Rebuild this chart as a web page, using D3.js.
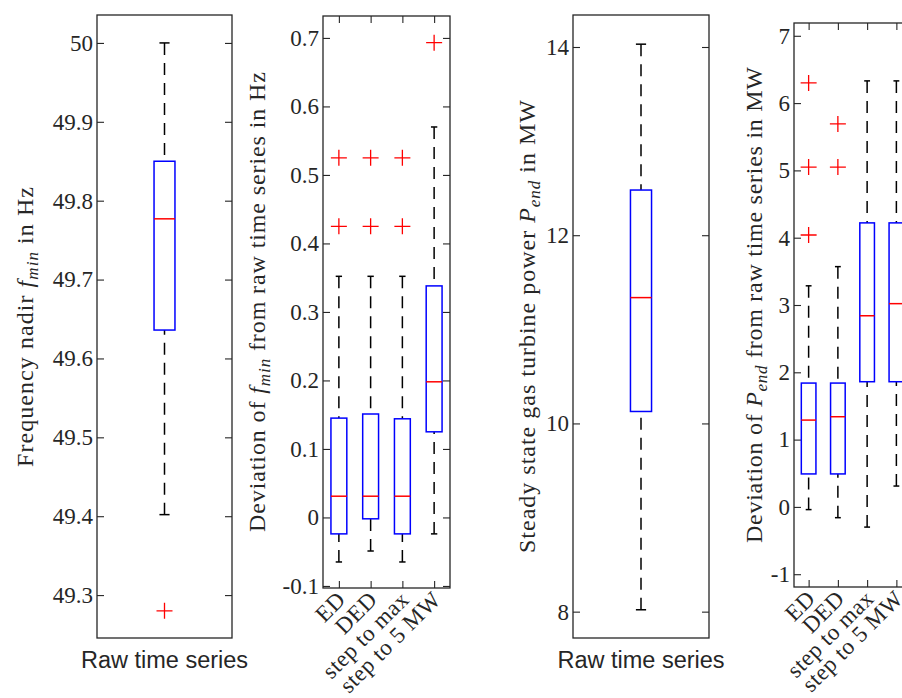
<!DOCTYPE html>
<html>
<head>
<meta charset="utf-8">
<script src="https://cdn.jsdelivr.net/npm/d3@7/dist/d3.min.js"></script>
<style>
  html, body { margin: 0; padding: 0; background: #fff; }
  svg { display: block; }
</style>
</head>
<body>
<svg id="chart" width="902" height="698"></svg>
<script>
// ---------------- DATA ----------------
// box stats order: [lower whisker, q1, median, q3, upper whisker]
const rawCategories = ["Raw time series"];
const devCategories = ["ED", "DED", "step to max", "step to 5 MW"];

const fminRawBoxes = [[49.402, 49.636, 49.777, 49.850, 50.000]];
const fminRawOutliers = [[49.28]];
const fminRawTicks = [49.3, 49.4, 49.5, 49.6, 49.7, 49.8, 49.9, 50];

const fminDevBoxes = [
  [-0.065, -0.024, 0.031, 0.145, 0.352],
  [-0.049, -0.002, 0.031, 0.151, 0.352],
  [-0.065, -0.024, 0.031, 0.144, 0.352],
  [-0.024, 0.125, 0.198, 0.338, 0.570]
];
const fminDevOutliers = [[0.425, 0.525], [0.425, 0.525], [0.425, 0.525], [0.693]];
const fminDevTicks = [-0.1, 0, 0.1, 0.2, 0.3, 0.4, 0.5, 0.6, 0.7];

const pendRawBoxes = [[8.02, 10.127, 11.337, 12.48, 14.03]];
const pendRawOutliers = [[]];
const pendRawTicks = [8, 10, 12, 14];

const pendDevBoxes = [
  [-0.04, 0.49, 1.29, 1.84, 3.285],
  [-0.16, 0.49, 1.34, 1.84, 3.57],
  [-0.30, 1.86, 2.84, 4.22, 6.33],
  [0.31, 1.86, 3.02, 4.22, 6.33]
];
const pendDevOutliers = [[4.04, 5.05, 6.30], [5.05, 5.69], [], []];
const pendDevTicks = [-1, 0, 1, 2, 3, 4, 5, 6, 7];

// ---------------- DRAWING ----------------
const svg = d3.select("#chart");
const FRAME = "#262626";
const SERIF = "'Liberation Serif', 'Times New Roman', serif";
const SANS = "'Liberation Sans', Arial, sans-serif";
const fmt = d => String(+d.toFixed(1));

function drawPanel(cfg) {
  const g = svg.append("g");
  const { x0, x1, y0, y1 } = cfg.frame;
  const y = d3.scaleLinear().domain(cfg.domain).range([y1, y0]);
  const x = d3.scalePoint().domain(cfg.categories).range([x0, x1]).padding(0.5);
  const step = cfg.categories.length > 1 ? x.step() : (x1 - x0);
  const bw = cfg.boxFrac * step;
  const cw = cfg.capFrac * step;

  // y axes (inside ticks, mirrored)
  const yl = g.append("g").attr("transform", `translate(${x0},0)`)
    .call(d3.axisLeft(y).tickValues(cfg.ticks).tickFormat(fmt).tickSize(-7).tickPadding(4));
  const yr = g.append("g").attr("transform", `translate(${x1},0)`)
    .call(d3.axisRight(y).tickValues(cfg.ticks).tickFormat("").tickSize(-7));
  [yl, yr].forEach(a => {
    a.select(".domain").remove();
    a.selectAll("line").attr("stroke", FRAME).attr("stroke-width", 1.1);
  });
  yl.selectAll("text").style("font-family", SERIF).style("font-size", "23px").attr("fill", FRAME);

  if (cfg.xTicks) {
    const xb = g.append("g").attr("transform", `translate(0,${y1})`)
      .call(d3.axisBottom(x).tickSize(-7).tickFormat(""));
    const xt = g.append("g").attr("transform", `translate(0,${y0})`)
      .call(d3.axisTop(x).tickSize(-7).tickFormat(""));
    [xb, xt].forEach(a => {
      a.select(".domain").remove();
      a.selectAll("line").attr("stroke", FRAME).attr("stroke-width", 1.1);
    });
    g.selectAll(".xlab").data(cfg.categories).enter().append("text")
      .attr("class", "xlab")
      .attr("transform", d => `translate(${x(d) + 8},${y1 + 13}) rotate(-45)`)
      .attr("text-anchor", "end")
      .style("font-family", SERIF).style("font-size", "23px").attr("letter-spacing", 0.5)
      .attr("fill", FRAME)
      .text(d => d);
  } else {
    g.selectAll(".xlab").data(cfg.categories).enter().append("text")
      .attr("class", "xlab")
      .attr("x", d => x(d)).attr("y", y1 + 30)
      .attr("text-anchor", "middle")
      .style("font-family", SANS).style("font-size", "23.5px").attr("fill", FRAME)
      .text(d => d);
  }

  // frame
  g.append("rect").attr("x", x0).attr("y", y0).attr("width", x1 - x0).attr("height", y1 - y0)
    .attr("fill", "none").attr("stroke", FRAME).attr("stroke-width", 1.3);

  // boxes
  cfg.categories.forEach((c, i) => {
    const [lw, q1, med, q3, uw] = cfg.boxes[i];
    const cx = x(c);
    const bg = g.append("g");
    bg.append("line").attr("x1", cx).attr("x2", cx).attr("y1", y(uw)).attr("y2", y(q3))
      .attr("stroke", "#000").attr("stroke-width", 1.5).attr("stroke-dasharray", "12,8");
    bg.append("line").attr("x1", cx).attr("x2", cx).attr("y1", y(lw)).attr("y2", y(q1))
      .attr("stroke", "#000").attr("stroke-width", 1.5).attr("stroke-dasharray", "12,8");
    [uw, lw].forEach(v => {
      bg.append("line").attr("x1", cx - cw / 2).attr("x2", cx + cw / 2).attr("y1", y(v)).attr("y2", y(v))
        .attr("stroke", "#000").attr("stroke-width", 1.5);
    });
    bg.append("rect").attr("x", cx - bw / 2).attr("y", y(q3)).attr("width", bw).attr("height", y(q1) - y(q3))
      .attr("fill", "none").attr("stroke", "#0000ff").attr("stroke-width", 1.5);
    bg.append("line").attr("x1", cx - bw / 2).attr("x2", cx + bw / 2).attr("y1", y(med)).attr("y2", y(med))
      .attr("stroke", "#ff0000").attr("stroke-width", 1.5);
    (cfg.outliers[i] || []).forEach(v => {
      const py = y(v);
      bg.append("path").attr("d", `M${cx - 8},${py}H${cx + 8}M${cx},${py - 8}V${py + 8}`)
        .attr("stroke", "#ff0000").attr("stroke-width", 1.3).attr("fill", "none");
    });
  });

  // y label
  const t = g.append("text")
    .attr("transform", `translate(${cfg.label.x},${cfg.label.cy}) rotate(-90)`)
    .attr("text-anchor", "middle")
    .style("font-family", SERIF).style("font-size", "24px").attr("fill", FRAME)
    .attr("textLength", cfg.label.len).attr("lengthAdjust", "spacing");
  t.append("tspan").text(cfg.label.pre);
  t.append("tspan").attr("font-style", "italic").text(cfg.label.sym);
  t.append("tspan").attr("font-style", "italic").style("font-size", "17px").attr("dy", 5).text(cfg.label.sub);
  t.append("tspan").attr("dy", -5).text(cfg.label.post);
}

drawPanel({
  frame: { x0: 97, x1: 232, y0: 15, y1: 638 },
  domain: [49.2456, 50.0354], ticks: fminRawTicks,
  categories: rawCategories, boxes: fminRawBoxes, outliers: fminRawOutliers,
  boxFrac: 0.155, capFrac: 0.075, xTicks: false,
  label: { x: 33, cy: 327, len: 280, pre: "Frequency nadir ", sym: "f", sub: "min", post: " in Hz" }
});

drawPanel({
  frame: { x0: 323, x1: 450, y0: 16, y1: 588 },
  domain: [-0.103, 0.732], ticks: fminDevTicks,
  categories: devCategories, boxes: fminDevBoxes, outliers: fminDevOutliers,
  boxFrac: 0.5, capFrac: 0.2, xTicks: true,
  label: { x: 265, cy: 302, len: 460, pre: "Deviation of ", sym: "f", sub: "min", post: " from raw time series in Hz" }
});

drawPanel({
  frame: { x0: 573, x1: 709, y0: 15, y1: 638 },
  domain: [7.72, 14.34], ticks: pendRawTicks,
  categories: rawCategories, boxes: pendRawBoxes, outliers: pendRawOutliers,
  boxFrac: 0.155, capFrac: 0.075, xTicks: false,
  label: { x: 535, cy: 326.5, len: 453, pre: "Steady state gas turbine power ", sym: "P", sub: "end", post: " in MW" }
});

drawPanel({
  frame: { x0: 794, x1: 911, y0: 23, y1: 587 },
  domain: [-1.19, 7.19], ticks: pendDevTicks,
  categories: devCategories, boxes: pendDevBoxes, outliers: pendDevOutliers,
  boxFrac: 0.5, capFrac: 0.2, xTicks: true,
  label: { x: 762, cy: 305, len: 476, pre: "Deviation of ", sym: "P", sub: "end", post: " from raw time series in MW" }
});
</script>
</body>
</html>
